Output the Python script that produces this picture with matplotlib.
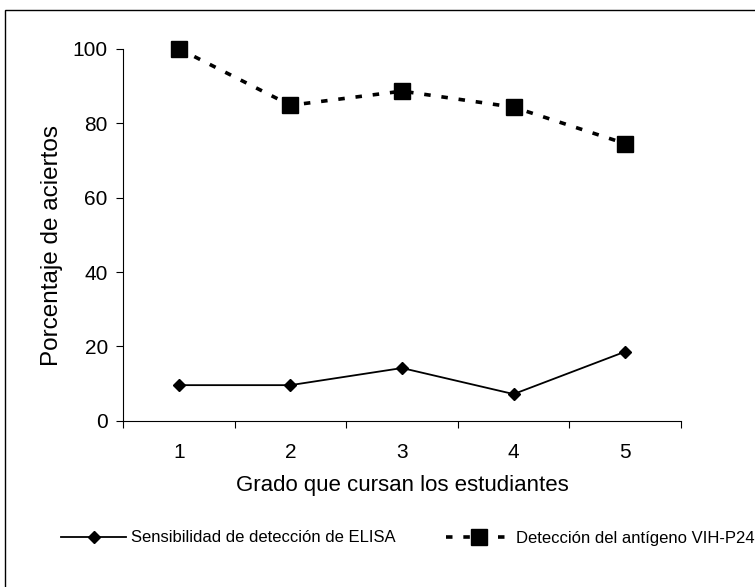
import matplotlib
matplotlib.use('agg')
import matplotlib.pyplot as plt
from matplotlib.patches import Rectangle

plt.rcParams['font.family'] = ['Liberation Sans', 'DejaVu Sans']

# datos
grados = [1, 2, 3, 4, 5]
elisa = [9.6, 9.6, 14.2, 7.2, 18.6]
vih_p24 = [100, 84.8, 88.6, 84.3, 74.5]
yticks = [0, 20, 40, 60, 80, 100]

fig = plt.figure(figsize=(7.55, 5.87), dpi=100)
ax = fig.add_axes([0.163, 0.283, 0.739, 0.634])

# marco exterior de la figura
fig.patches.append(Rectangle((5 / 755, -0.1), 1.2, (587 - 10) / 587 + 0.1,
                             transform=fig.transFigure, fill=False,
                             edgecolor='black', linewidth=1.0))

ax.plot(grados, elisa, color='black', linewidth=1.3, marker='D', markersize=6,
        clip_on=False, label='Sensibilidad de detección de ELISA')
ax.plot(grados, vih_p24, color='black', linewidth=2.6, linestyle=(0, (1.8, 3.0)),
        marker='s', markersize=12, clip_on=False,
        label='Detección del antígeno VIH-P24')

ax.set_xlim(0.5, 5.5)
ax.set_ylim(0, 100)
ax.set_yticks(yticks)
ax.set_xticks(grados)
ax.set_xticks([g - 0.5 for g in grados] + [5.5], minor=True)
ax.tick_params(axis='x', which='major', length=0, labelsize=15, pad=16)
ax.tick_params(axis='x', which='minor', length=5, direction='out', width=0.8)
ax.tick_params(axis='y', length=5, direction='out', width=0.8, labelsize=15, pad=6)

for s in ['top', 'right']:
    ax.spines[s].set_visible(False)
ax.spines['left'].set_linewidth(0.8)
ax.spines['bottom'].set_linewidth(0.8)

ax.set_ylabel('Porcentaje de aciertos', fontsize=17.5)
ax.yaxis.set_label_coords(-0.108, 0.47)
ax.set_xlabel('Grado que cursan los estudiantes', fontsize=16)
ax.xaxis.set_label_coords(0.5, -0.145)

ax.legend(loc='center', bbox_to_anchor=(408 / 755, 1 - 538 / 587),
          bbox_transform=fig.transFigure, ncol=2, frameon=False,
          fontsize=12, handlelength=3.9, columnspacing=3.0, handletextpad=0.3,
          borderpad=0.1)

plt.savefig('out.png', dpi=100)
plt.close()
